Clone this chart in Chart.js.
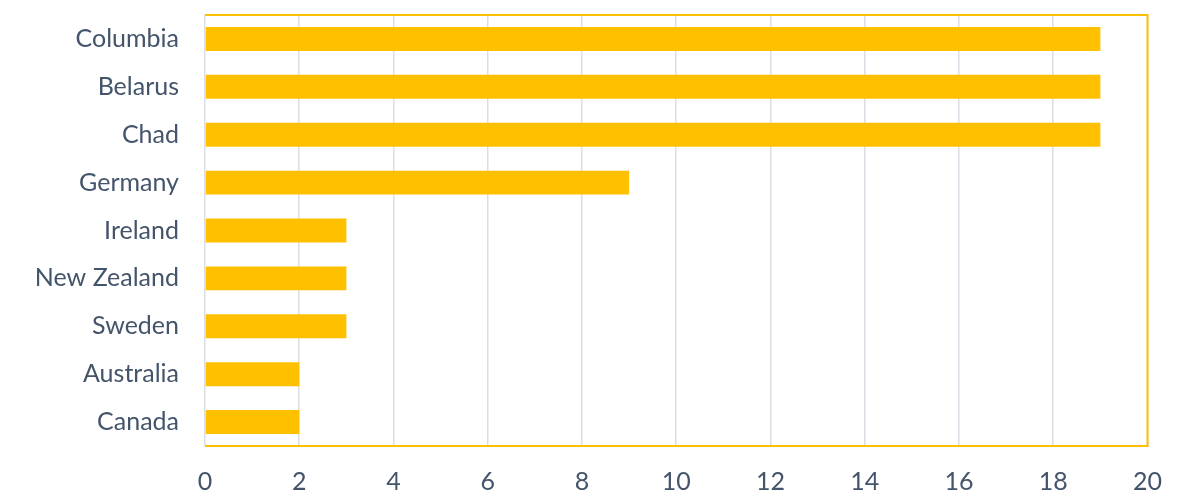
<!DOCTYPE html>
<html>
<head>
<meta charset="utf-8">
<script src="https://cdn.jsdelivr.net/npm/chart.js@4/dist/chart.umd.min.js"></script>
<style>
  html, body { margin: 0; padding: 0; background: #fff; }
  #wrap { width: 1183px; height: 500px; }
</style>
</head>
<body>
<div id="wrap"><canvas id="barChart"></canvas></div>
<script>
const countries = ['Columbia', 'Belarus', 'Chad', 'Germany', 'Ireland', 'New Zealand', 'Sweden', 'Australia', 'Canada'];
const counts = [19, 19, 19, 9, 3, 3, 3, 2, 2];
const xTicks = [0, 2, 4, 6, 8, 10, 12, 14, 16, 18, 20];

// yellow frame on top, right and bottom of the plot area
const frame = {
    id: 'frame',
    afterDatasetsDraw(chart) {
        const { ctx, chartArea: a } = chart;
        ctx.save();
        ctx.strokeStyle = '#FFC000';
        ctx.lineWidth = 2;
        ctx.beginPath();
        ctx.moveTo(a.left, a.top);
        ctx.lineTo(a.right, a.top);
        ctx.lineTo(a.right, a.bottom);
        ctx.lineTo(a.left, a.bottom);
        ctx.stroke();
        ctx.restore();
    }
};

const ctx = document.getElementById('barChart').getContext('2d');
new Chart(ctx, {
    type: 'bar',
    data: {
        labels: countries,
        datasets: [{
            data: counts,
            backgroundColor: '#FFC000',
            borderWidth: 0,
            barPercentage: 0.5,
            categoryPercentage: 1
        }]
    },
    options: {
        indexAxis: 'y',
        responsive: true,
        maintainAspectRatio: false,
        animation: false,
        layout: { padding: { top: 15, right: 31, bottom: 0, left: 0 } },
        plugins: { legend: { display: false }, tooltip: { enabled: false } },
        scales: {
            x: {
                min: 0,
                max: 20,
                afterBuildTicks(scale) { scale.ticks = xTicks.map(v => ({ value: v })); },
                afterFit(scale) { scale.height = 54; },
                grid: { color: '#DADDE3', lineWidth: 1.5, drawTicks: false },
                border: { display: false },
                ticks: { color: '#44546A', font: { family: 'Lato', size: 25 }, padding: 21 }
            },
            y: {
                afterFit(scale) {
                    scale.width = 205;
                    scale.paddingTop = 0;
                    scale.paddingBottom = 0;
                },
                grid: { display: false, drawTicks: false },
                border: { display: false },
                ticks: { color: '#44546A', font: { family: 'Lato', size: 25 }, padding: 26 }
            }
        }
    },
    plugins: [frame]
});
</script>
</body>
</html>
